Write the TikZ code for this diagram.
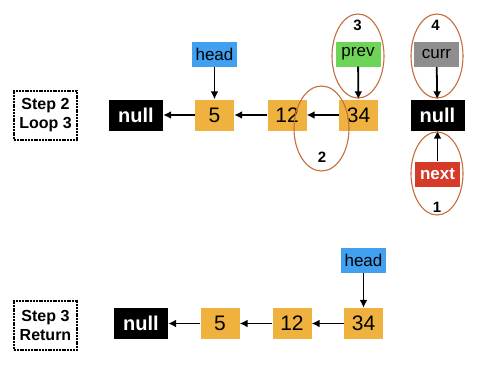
\documentclass[tikz,border=0pt]{standalone}
\usepackage{fontspec}
\setmainfont{Liberation Sans}
\usetikzlibrary{
  arrows.meta,
  shapes.geometric
}
\definecolor{valorange}{RGB}{240,178,62}
\definecolor{headblue}{RGB}{66,160,240}
\definecolor{prevgreen}{RGB}{110,212,88}
\definecolor{currgray}{RGB}{142,142,142}
\definecolor{nextred}{RGB}{214,58,40}
\definecolor{ringbrown}{RGB}{196,110,60}
\tikzset{
  valbox/.style={fill=valorange, minimum width=39pt, minimum height=31pt,
    inner sep=0pt, font=\fontsize{21}{23}\selectfont},
  nullbox/.style={fill=black, text=white, minimum width=54pt, minimum height=31pt,
    inner sep=0pt, font=\fontsize{20}{22}\selectfont\bfseries},
  ptrbox/.style={minimum width=45pt, minimum height=25pt,
    inner sep=0pt, font=\fontsize{17}{19}\selectfont},
  stepbox/.style={draw, dash pattern=on 2pt off 0.8pt, line width=2pt, fill=white,
    minimum width=63pt, minimum height=49pt, align=center,
    font=\fontsize{16}{19}\selectfont\bfseries},
  ring/.style={draw=ringbrown, line width=1.1pt, ellipse, inner sep=0pt},
  ringnum/.style={font=\fontsize{15}{17}\selectfont\bfseries},
  arr/.style={-{Latex[length=8pt,width=8pt]}, line width=1.8pt},
}

\begin{document}
\begin{tikzpicture}[x=1pt, y=-1pt]
  \useasboundingbox[fill=white] (0,0) rectangle (482,370);

  % Step 2, loop 3
  \node[stepbox] (stepa) at (45.5,115.5) {Step 2\\Loop 3};
  \node[nullbox] (nulla) at (136,115) {null};
  \node[valbox] (fivea) at (214.5,115) {5};
  \node[valbox] (twelvea) at (287,115) {12};
  \node[valbox] (thirtya) at (358.5,115) {34};
  \node[nullbox] (nullb) at (437.5,115) {null};
  \node[ptrbox, fill=headblue] (heada) at (214.5,54.5) {head};
  \node[ptrbox, fill=prevgreen] (preva) at (358,54) {prev};
  \node[ptrbox, fill=currgray] (curra) at (436.5,54.5) {curr};
  \node[ptrbox, fill=nextred, text=white, font=\fontsize{17}{19}\selectfont\bfseries]
    (nexta) at (437.5,174) {next};

  \draw[arr] (fivea) -- (nulla);
  \draw[arr] (twelvea) -- (fivea);
  \draw[arr] (thirtya) -- (twelvea);
  \draw[arr] (heada) -- (fivea);
  \draw[arr] (preva) -- (thirtya);
  \draw[arr] (curra) -- (nullb);
  \draw[arr] (nexta) -- (nullb);

  % order of the pointer moves
  \node[ring, minimum width=52pt, minimum height=84pt] (ringc) at (358,56) {};
  \node[ring, minimum width=52pt, minimum height=84pt] (ringd) at (437,56) {};
  \node[ring, minimum width=55pt, minimum height=85pt] (ringb) at (321.5,128.5) {};
  \node[ring, minimum width=52pt, minimum height=83pt] (ringa) at (437,173.5) {};
  \node[ringnum] (numc) at (357.5,25) {3};
  \node[ringnum] (numd) at (435.5,25) {4};
  \node[ringnum] (numb) at (322,157) {2};
  \node[ringnum] (numa) at (437,207) {1};

  % Step 3, return
  \node[stepbox] (stepb) at (45.5,325) {Step 3\\Return};
  \node[nullbox] (nullc) at (141,323.5) {null};
  \node[valbox] (fiveb) at (220,323.5) {5};
  \node[valbox] (twelveb) at (292,323.5) {12};
  \node[valbox] (thirtyb) at (363.5,323.5) {34};
  \node[ptrbox, fill=headblue] (headb) at (363.5,260.5) {head};

  \draw[arr] (fiveb) -- (nullc);
  \draw[arr] (twelveb) -- (fiveb);
  \draw[arr] (thirtyb) -- (twelveb);
  \draw[arr] (headb) -- (thirtyb);
\end{tikzpicture}
\end{document}
